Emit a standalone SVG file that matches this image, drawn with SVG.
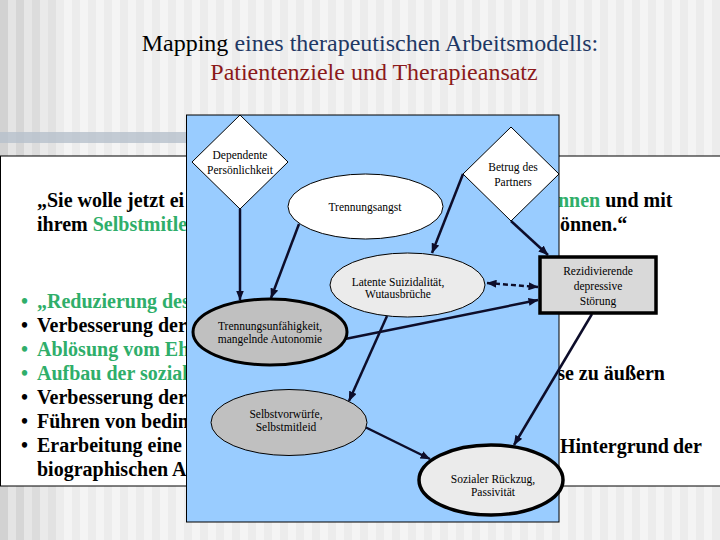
<svg xmlns="http://www.w3.org/2000/svg" width="720" height="540" viewBox="0 0 720 540">
<defs>
<style>
.title{font-family:"Liberation Serif","Times New Roman",serif;font-size:24px;text-anchor:middle}
.b{font-family:"Liberation Serif","Times New Roman",serif;font-weight:bold;font-size:20px;fill:#000}
.g{fill:#2fae6a}
.lbl{font-family:"Liberation Serif","Times New Roman",serif;font-size:11.5px;text-anchor:middle;fill:#000}
.con{stroke:#0d0d2a;stroke-width:2.5;fill:none}
</style>
<pattern id="stripes" width="16" height="10" patternUnits="userSpaceOnUse">
<rect width="16" height="10" fill="#ececec"/>
<rect width="8" height="10" fill="#f4f4f4"/>
</pattern>
<marker id="ah" viewBox="0 0 10 8" refX="9.5" refY="4" markerWidth="10" markerHeight="8" markerUnits="userSpaceOnUse" orient="auto-start-reverse">
<path d="M0,0 L10,4 L0,8 z" fill="#0d0d2a"/>
</marker>
</defs>

<!-- background -->
<rect width="720" height="540" fill="url(#stripes)"/>
<g>
<rect x="0" y="0" width="8" height="540" fill="#d2d2d2"/>
<rect x="8" y="0" width="8" height="540" fill="#e4e4e4"/>
<rect x="16" y="0" width="8" height="540" fill="#d6d6d6"/>
<rect x="24" y="0" width="8" height="540" fill="#e6e6e6"/>
<rect x="32" y="0" width="8" height="540" fill="#dcdcdc"/>
<rect x="40" y="0" width="8" height="540" fill="#eaeaea"/>
<rect x="48" y="0" width="8" height="540" fill="#e2e2e2"/>
</g>
<rect x="0" y="132" width="186" height="11" fill="#b7c0cc" opacity="0.8"/>

<!-- title -->
<text class="title" x="370" y="51" fill="#1f3864"><tspan fill="#000">Mapping</tspan> eines therapeutischen Arbeitsmodells:</text>
<text class="title" x="374" y="80" fill="#8b1a1a">Patientenziele und Therapieansatz</text>

<!-- white text box -->
<rect x="0.5" y="156" width="725" height="330" fill="#fff" stroke="#000" stroke-width="1"/>

<!-- quote -->
<text class="b" x="37" y="207">„Sie wolle jetzt ei</text>
<text class="b" x="37" y="231">ihrem <tspan class="g">Selbstmitle</tspan></text>
<text class="b" x="558" y="207"><tspan class="g">nnen</tspan> und mit</text>
<text class="b" x="560" y="231">önnen.“</text>

<!-- bullets -->
<g class="b">
<text x="21" y="308" class="b g">•</text><text x="37" y="308" class="b g">„Reduzierung des</text>
<text x="21" y="332" class="b">•</text><text x="37" y="332" class="b">Verbesserung der</text>
<text x="21" y="356" class="b g">•</text><text x="37" y="356" class="b g">Ablösung vom Eh</text>
<text x="21" y="380" class="b g">•</text><text x="37" y="380" class="b g">Aufbau der sozial</text>
<text x="21" y="404" class="b">•</text><text x="37" y="404" class="b">Verbesserung der</text>
<text x="21" y="428" class="b">•</text><text x="37" y="428" class="b">Führen von bedin</text>
<text x="21" y="452" class="b">•</text><text x="37" y="452" class="b">Erarbeitung eine</text>
<text x="37" y="476" class="b">biographischen A</text>
<text x="665" y="380" class="b" text-anchor="end">se zu äußern</text>
<text y="453" class="b"><tspan x="560">Hintergrund</tspan><tspan x="673">der</tspan></text>
</g>

<!-- blue panel -->
<rect x="186.5" y="115" width="372.5" height="407" fill="#99ccff" stroke="#000" stroke-width="1"/>

<!-- connectors -->
<g id="connectors">
<line class="con" x1="240" y1="209" x2="240" y2="300" marker-end="url(#ah)"/>
<line class="con" x1="299" y1="224" x2="271" y2="298" marker-end="url(#ah)"/>
<line class="con" x1="463" y1="174" x2="432" y2="253" marker-end="url(#ah)"/>
<line class="con" x1="511" y1="221" x2="548" y2="255" marker-end="url(#ah)"/>
<line class="con" x1="487" y1="283" x2="538" y2="287" stroke-dasharray="5,3" marker-start="url(#ah)" marker-end="url(#ah)"/>
<line class="con" x1="345" y1="339" x2="538" y2="300" marker-end="url(#ah)"/>
<line class="con" x1="387" y1="316" x2="349" y2="401" marker-end="url(#ah)"/>
<line class="con" x1="592" y1="314" x2="514" y2="445" marker-end="url(#ah)"/>
<line class="con" x1="365" y1="427" x2="430" y2="459" marker-end="url(#ah)"/>
</g>

<!-- nodes -->
<g id="dependente">
<polygon points="240,115 288,162 240,209 192,162" fill="#fff" stroke="#000" stroke-width="1"/>
<text class="lbl" x="240" y="159">Dependente</text>
<text class="lbl" x="240" y="174">Persönlichkeit</text>
</g>
<g id="betrug">
<polygon points="511,127 559,174 511,221 463,174" fill="#fff" stroke="#000" stroke-width="1"/>
<text class="lbl" x="513" y="171">Betrug des</text>
<text class="lbl" x="513" y="186">Partners</text>
</g>
<g id="trennungsangst">
<ellipse cx="365.5" cy="206.5" rx="77.5" ry="32.5" fill="#fff" stroke="#000" stroke-width="1"/>
<text class="lbl" x="365" y="211">Trennungsangst</text>
</g>
<g id="latente">
<ellipse cx="407.5" cy="285" rx="77.5" ry="32" fill="#ebebeb" stroke="#000" stroke-width="1"/>
<text class="lbl" x="398" y="286">Latente Suizidalität,</text>
<text class="lbl" x="398" y="298">Wutausbrüche</text>
</g>
<g id="rezidivierende">
<rect x="540" y="257" width="116" height="56" fill="#d9d9d9" stroke="#000" stroke-width="3.5"/>
<text class="lbl" x="598" y="275">Rezidivierende</text>
<text class="lbl" x="598" y="290">depressive</text>
<text class="lbl" x="598" y="305">Störung</text>
</g>
<g id="trennungsunfaehigkeit">
<ellipse cx="270" cy="332" rx="77" ry="33" fill="#c0c0c0" stroke="#000" stroke-width="3"/>
<text class="lbl" x="270" y="330">Trennungsunfähigkeit,</text>
<text class="lbl" x="270" y="343">mangelnde Autonomie</text>
</g>
<g id="selbstvorwuerfe">
<ellipse cx="289" cy="422.5" rx="78" ry="33" fill="#c0c0c0" stroke="#000" stroke-width="1"/>
<text class="lbl" x="286" y="418">Selbstvorwürfe,</text>
<text class="lbl" x="286" y="431">Selbstmitleid</text>
</g>
<g id="sozialer">
<ellipse cx="491" cy="480" rx="72" ry="35" fill="#ebebeb" stroke="#000" stroke-width="3.5"/>
<text class="lbl" x="493" y="483">Sozialer Rückzug,</text>
<text class="lbl" x="493" y="496">Passivität</text>
</g>
</svg>
